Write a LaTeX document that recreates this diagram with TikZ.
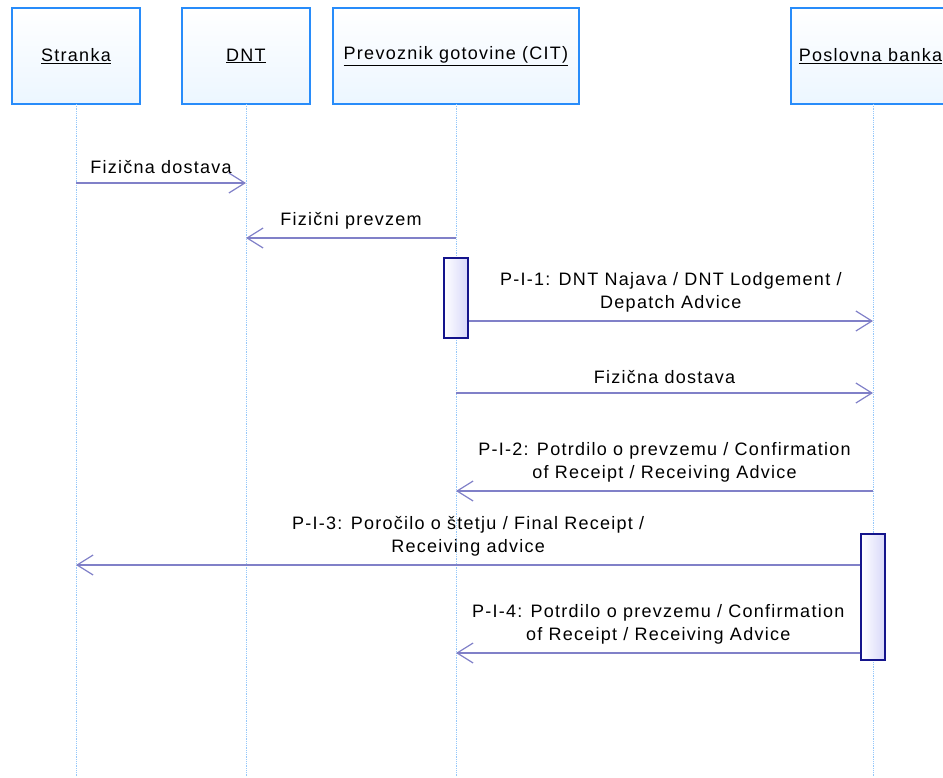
\documentclass[tikz,border=0pt]{standalone}
\usepackage{fontspec}
\setmainfont[LetterSpace=7]{Liberation Sans}
\usetikzlibrary{arrows.meta,positioning}

\definecolor{boxblue}{RGB}{40,140,250}
\definecolor{boxfill}{RGB}{236,246,255}
\definecolor{lifeblue}{RGB}{150,200,250}
\definecolor{msgblue}{RGB}{128,128,200}
\definecolor{actnavy}{RGB}{20,20,140}
\definecolor{actfill}{RGB}{215,215,250}

\begin{document}
\begin{tikzpicture}[
    x=1pt, y=-1pt,
    actor/.style={
    draw=boxblue,
    line width=1.3pt,
    top color=white,
    bottom color=boxfill,
    minimum height=96pt,
    inner sep=0pt,
    outer sep=0pt,
    font=\fontsize{18}{22}\selectfont},
    activation/.style={
    draw=actnavy,
    line width=1.3pt,
    left color=white,
    right color=actfill,
    minimum width=24pt,
    inner sep=0pt},
    lifeline/.style={draw=lifeblue, line width=0.8pt, densely dotted},
    msg/.style={draw=msgblue, line width=1.3pt,
    -{Straight Barb[length=16pt,width=20pt,line width=1.2pt]}},
    msglabel/.style={above=5pt, align=center,
    font=\fontsize{18}{23}\selectfont}
    ]
    \clip (0,0) rectangle (943,777);

    \node[actor, minimum width=128pt] (h1) at (76,56) {\underline{Stranka}};
    \node[actor, minimum width=128pt, right=42pt of h1] (h2) {\underline{DNT}};
    \node[actor, minimum width=246pt, right=23pt of h2] (h3) {\underline{Prevoznik gotovine (CIT)}};
    \node[actor, minimum width=159pt, anchor=west] (h4) at (791,56) {\underline{Poslovna banka}};

    \coordinate (end) at (0,777);
    \foreach \h in {h1,h2,h3} {
        \draw[lifeline] (\h.south) -- (\h |- end);
    }
    \coordinate (b4) at (873,104);
    \draw[lifeline] (b4) -- (b4 |- end);

    \node[activation, minimum height=80pt] (a1) at (456,298) {};
    \node[activation, minimum height=126pt] (a2) at (873,597) {};

    \coordinate (y1) at (0,183);
    \coordinate (y2) at (0,238);
    \coordinate (y3) at (0,321);
    \coordinate (y4) at (0,393);
    \coordinate (y5) at (0,491);
    \coordinate (y6) at (0,565);
    \coordinate (y7) at (0,653);

    \draw[msg] (h1 |- y1) -- node[msglabel] {Fizična dostava} (h2 |- y1);
    \draw[msg] (h3 |- y2) -- node[msglabel] {Fizični prevzem} (h2 |- y2);
    \draw[msg] (a1.east |- y3) -- node[msglabel] {P-I-1: DNT Najava / DNT Lodgement /\\Depatch Advice} (b4 |- y3);
    \draw[msg] (h3 |- y4) -- node[msglabel] {Fizična dostava} (b4 |- y4);
    \draw[msg] (b4 |- y5) -- node[msglabel] {P-I-2: Potrdilo o prevzemu / Confirmation\\of Receipt / Receiving Advice} (h3 |- y5);
    \draw[msg] (a2.west |- y6) -- node[msglabel] {P-I-3: Poročilo o štetju / Final Receipt /\\Receiving advice} (h1 |- y6);
    \draw[msg] (a2.west |- y7) -- node[msglabel] {P-I-4: Potrdilo o prevzemu / Confirmation\\of Receipt / Receiving Advice} (h3 |- y7);
\end{tikzpicture}
\end{document}
